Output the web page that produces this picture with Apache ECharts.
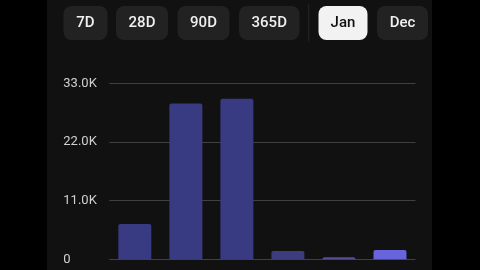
<!DOCTYPE html>
<html>
<head>
<meta charset="utf-8">
<script src="https://cdn.jsdelivr.net/npm/echarts@6/dist/echarts.min.js"></script>
<style>
html,body{margin:0;padding:0;background:#000;}
#c{width:480px;height:270px;}
</style>
</head>
<body>
<div id="c"></div>
<script>
// Data
const categories = ['1', '2', '3', '4', '5', '6'];
const values = [6600, 29200, 30100, 1550, 380, 1750];
const yTicks = [0, 11000, 22000, 33000];
const buttonLabels = ['7D', '28D', '90D', '365D', 'Jan', 'Dec'];
const selectedButton = 'Jan';

// Styles / layout
const barColors = ['#383a82', '#383a82', '#383a82', '#3c3d7c', '#574c98', '#6864dc'];
const buttonBoxes = [[63.5, 44], [116, 52], [177.5, 52], [239, 60.5], [318.5, 49], [377, 51]];

const chart = echarts.init(document.getElementById('c'), null, {renderer: 'canvas'});

const graphics = [
  {type: 'rect', z: -10, shape: {x: 47, y: 0, width: 385, height: 270}, style: {fill: '#111111'}, silent: true},
  {type: 'line', shape: {x1: 308.7, y1: 4, x2: 308.7, y2: 42}, style: {stroke: '#262626', lineWidth: 1}}
];
buttonLabels.forEach((lab, i) => {
  const [x, w] = buttonBoxes[i];
  const sel = lab === selectedButton;
  graphics.push({
    type: 'group', x: x, y: 6,
    children: [
      {type: 'rect', shape: {x: 0, y: 0, width: w, height: 34, r: 8}, style: {fill: sel ? '#f2f2f2' : '#222222'}},
      {type: 'text', x: w / 2, y: 17.5, style: {text: lab, fill: sel ? '#111111' : '#f0f0f0', font: '500 15px Roboto', textAlign: 'center', textVerticalAlign: 'middle'}}
    ]
  });
});

chart.setOption({
  backgroundColor: '#000000',
  animation: false,
  grid: {left: 109.3, right: 64.5, top: 83.3, bottom: 10.7, containLabel: false},
  xAxis: {
    type: 'category', data: categories,
    axisLine: {show: false}, axisTick: {show: false}, axisLabel: {show: false}
  },
  yAxis: {
    type: 'value', min: yTicks[0], max: yTicks[yTicks.length - 1], interval: yTicks[1] - yTicks[0],
    axisLine: {show: false}, axisTick: {show: false},
    splitLine: {lineStyle: {color: '#404040', width: 1}},
    axisLabel: {
      color: '#d0d0d0', fontFamily: 'Roboto', fontSize: 13, align: 'left', margin: 46,
      formatter: v => v === 0 ? '0' : (v / 1000).toFixed(1) + 'K'
    }
  },
  series: [{
    type: 'bar', barWidth: 33,
    data: values.map((v, i) => ({value: v, itemStyle: {color: barColors[i], borderRadius: [2, 2, 0, 0]}}))
  }],
  graphic: graphics
});
</script>
</body>
</html>
